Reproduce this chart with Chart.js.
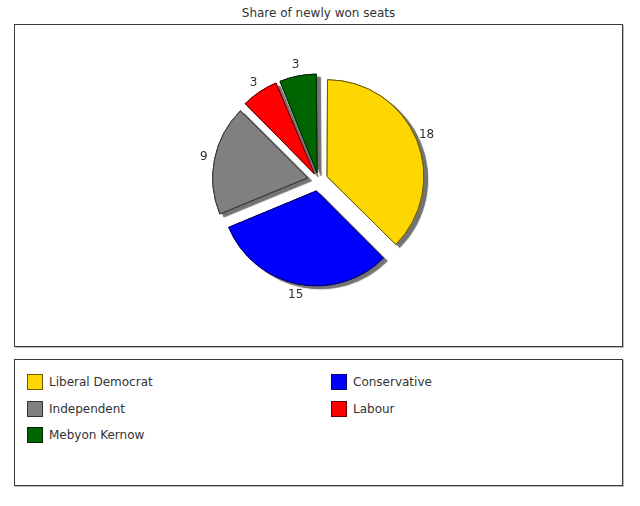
<!DOCTYPE html>
<html>
<head>
<meta charset="utf-8">
<title>Share of newly won seats</title>
<script src="https://cdn.jsdelivr.net/npm/chart.js@4.4.1/dist/chart.umd.min.js"></script>
<style>
    body { margin: 0; background: #fff; font-family: "DejaVu Sans", sans-serif; color: #333; }
    #title { position: absolute; left: 0; top: 6px; width: 637px; text-align: center; font-size: 12px; }
    .box { position: absolute; left: 14px; width: 607px; border: 1px solid #3a3a3a; background: #fff; box-shadow: 1px 1px 0 #bbb; }
    #chart-box { top: 24px; height: 321px; }
    #legend-box { top: 359px; height: 125px; }
    #legend { list-style: none; margin: 0; padding: 0; }
    #legend li { position: absolute; height: 16px; font-size: 12px; line-height: 16px; white-space: nowrap; }
    #legend .swatch { display: inline-block; width: 14px; height: 14px; border: 1px solid #333; vertical-align: top; margin-right: 6px; }
</style>
</head>
<body>
<div id="title">Share of newly won seats</div>
<div class="box" id="chart-box"><canvas id="pieChart" width="607" height="321"></canvas></div>
<div class="box" id="legend-box"><ul id="legend"></ul></div>

<script>
// Data
const parties = ['Liberal Democrat', 'Conservative', 'Independent', 'Labour', 'Mebyon Kernow'];
const seats = [18, 15, 9, 3, 3];
const partyColors = ['#FFD700', '#0000FF', '#808080', '#FF0000', '#006400'];
const partyBorders = ['#6b5a00', '#00006b', '#333333', '#6b0000', '#002800'];

const EXPLODE = 12; // px each slice is pushed out

// ArcElement moves by offset/4 * (1 + fix), so work back to the offset we want
function sliceOffset(ctx) {
    const total = seats.reduce((a, b) => a + b, 0);
    const circ = seats[ctx.dataIndex] / total * Math.PI * 2;
    const fix = 1 - Math.sin(Math.min(Math.PI, circ));
    return EXPLODE * 4 / (1 + fix);
}

// Grey drop shadow: draw the slices once with a shadow, the normal pass then covers them
const shadowPlugin = {
    id: 'sliceShadow',
    beforeDatasetsDraw(chart) {
        const ctx = chart.ctx;
        const meta = chart.getDatasetMeta(0);
        ctx.save();
        ctx.shadowColor = 'rgba(90, 90, 90, 0.85)';
        ctx.shadowOffsetX = 4;
        ctx.shadowOffsetY = 3;
        ctx.shadowBlur = 1;
        meta.data.forEach(arc => arc.draw(ctx));
        ctx.restore();
    }
};

// Value labels just outside each slice
const valueLabels = {
    id: 'valueLabels',
    afterDraw(chart) {
        const ctx = chart.ctx;
        const meta = chart.getDatasetMeta(0);
        ctx.save();
        ctx.font = '12px "DejaVu Sans", sans-serif';
        ctx.fillStyle = '#333';
        ctx.textAlign = 'center';
        ctx.textBaseline = 'middle';
        meta.data.forEach((arc, i) => {
            const p = arc.getProps(['x', 'y', 'startAngle', 'endAngle', 'outerRadius'], true);
            const mid = (p.startAngle + p.endAngle) / 2;
            const r = p.outerRadius + EXPLODE + 11;
            ctx.fillText(String(seats[i]), p.x + Math.cos(mid) * r, p.y + Math.sin(mid) * r);
        });
        ctx.restore();
    }
};

const chart = new Chart(document.getElementById('pieChart').getContext('2d'), {
    type: 'pie',
    data: {
        labels: parties,
        datasets: [{
            data: seats,
            backgroundColor: partyColors,
            borderColor: partyBorders,
            borderWidth: 1,
            offset: sliceOffset,
            hoverOffset: 0
        }]
    },
    options: {
        responsive: false,
        animation: false,
        radius: 94,
        layout: { padding: { bottom: 11 } },
        plugins: {
            legend: { display: false },
            tooltip: { enabled: false }
        }
    },
    plugins: [shadowPlugin, valueLabels]
});

// Two-column legend in the lower box, built from the same arrays
const legendEl = document.getElementById('legend');
parties.forEach((name, i) => {
    const li = document.createElement('li');
    li.style.left = (i % 2 === 0 ? 12 : 316) + 'px';
    li.style.top = (14 + Math.floor(i / 2) * 26.5) + 'px';
    li.innerHTML = '<span class="swatch"></span>' + name;
    const sw = li.querySelector('.swatch');
    sw.style.background = partyColors[i];
    sw.style.borderColor = partyBorders[i];
    legendEl.appendChild(li);
});
</script>
</body>
</html>
